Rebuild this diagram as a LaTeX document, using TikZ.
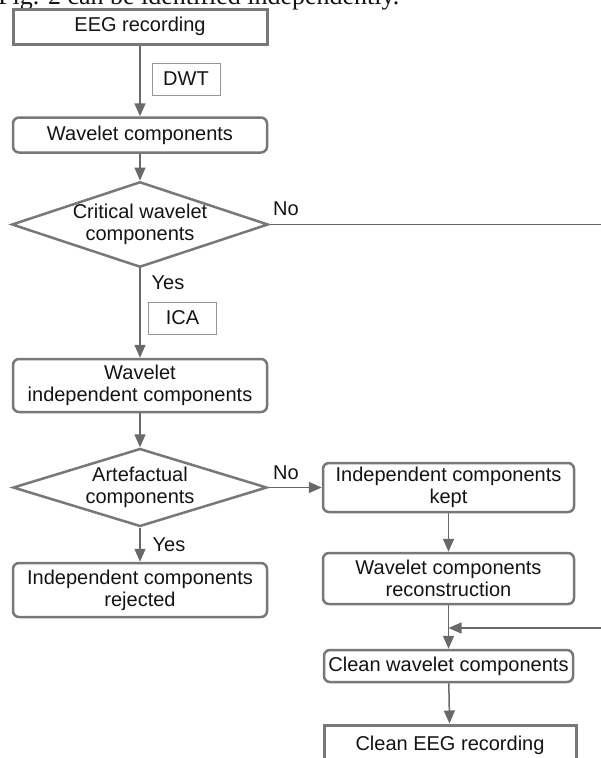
\documentclass[tikz,border=0pt]{standalone}
\usepackage{tikz}
\usepackage{xcolor}
\usepackage{fontspec}
\setmainfont{Liberation Sans}
\newfontfamily\pagefont{Liberation Serif}
\usetikzlibrary{shapes.geometric,arrows.meta}
\definecolor{framegray}{RGB}{120, 120, 120}
\definecolor{arrowgray}{RGB}{105, 105, 105}
\definecolor{labelgray}{RGB}{150, 150, 150}
\definecolor{textblack}{RGB}{20, 20, 20}

\tikzset{
    every node/.style={text=textblack, font=\fontsize{20}{22}\selectfont, inner sep=0pt},
    endbox/.style={draw=framegray, line width=3pt, fill=white},
    stagebox/.style={draw=framegray, line width=2.5pt, rounded corners=6pt, fill=white, align=center},
    decision/.style={draw=framegray, line width=2.5pt, diamond, aspect=3, align=center},
    tagbox/.style={draw=labelgray, line width=1pt, fill=white},
    flow/.style={draw=arrowgray, line width=1.5pt, -{Triangle[length=13pt,width=11pt]}},
    plain/.style={draw=arrowgray, line width=1.5pt}
}

\begin{document}
\begin{tikzpicture}[x=1pt,y=-1pt]
        \path[use as bounding box, clip] (0,0) rectangle (601,758);
        \fill[white] (0,0) rectangle (601,758);

        % cut-off line of the page above
        \node[anchor=base west, font=\pagefont\fontsize{26}{28}\selectfont] (pageline) at (-2,4) {Fig. 2 can be identified independently.};

        % left column
        \node[endbox, minimum width=254pt, minimum height=35pt] (eeg) at (140,26.5) {EEG recording};
        \node[tagbox, minimum width=68pt, minimum height=32pt] (dwt) at (186,79) {DWT};
        \node[stagebox, minimum width=254pt, minimum height=35pt] (wav) at (140,135) {Wavelet components};
        \node[decision, minimum width=253pt, minimum height=83pt] (crit) at (140,224.5) {Critical wavelet\\components};
        \node[tagbox, minimum width=68pt, minimum height=32pt] (ica) at (182.5,318) {ICA};
        \node[stagebox, minimum width=254pt, minimum height=53pt] (wic) at (140,385.5) {Wavelet\\independent components};
        \node[decision, minimum width=254pt, minimum height=78pt] (art) at (140,487.5) {Artefactual\\components};
        \node[stagebox, minimum width=254pt, minimum height=54pt] (rej) at (140,590) {Independent components\\rejected};

        % right column
        \node[stagebox, minimum width=251pt, minimum height=49pt] (kept) at (448.5,487.5) {Independent components\\kept};
        \node[stagebox, minimum width=251pt, minimum height=51pt] (rec) at (448.5,578.5) {Wavelet components\\reconstruction};
        \node[stagebox, minimum width=249pt, minimum height=32pt] (cwc) at (448.5,666) {Clean wavelet components};
        \node[endbox, minimum width=252pt, minimum height=46pt, anchor=north] (cln) at (450,723.5) {};
        \node (clntext) at (450,745) {Clean EEG recording};

        % answers
        \node (nocrit) at (286,209) {No};
        \node (yescrit) at (168,283) {Yes};
        \node (noart) at (286,473) {No};
        \node (yesart) at (169,545) {Yes};

        % connectors
        \coordinate (skip) at (601,224.5);
        \coordinate (back) at (601,628);
        \draw[flow] (eeg) -- (wav);
        \draw[flow] (wav) -- (crit);
        \draw[plain] (crit.east) -- (skip);
        \draw[flow] (crit) -- (wic);
        \draw[flow] (wic) -- (art);
        \draw[flow] (art) -- (rej);
        \draw[flow] (art.east) -- (kept.west);
        \draw[flow] (kept) -- (rec);
        \draw[flow] (rec) -- (cwc);
        \draw[flow] (back) -- (back -| rec.south);
        \draw[flow] (cwc) -- (cln);

        % labels on top of the lines
        \node[tagbox, minimum width=68pt, minimum height=32pt] at (dwt) {DWT};
        \node[tagbox, minimum width=68pt, minimum height=32pt] at (ica) {ICA};
    \end{tikzpicture}
\end{document}
